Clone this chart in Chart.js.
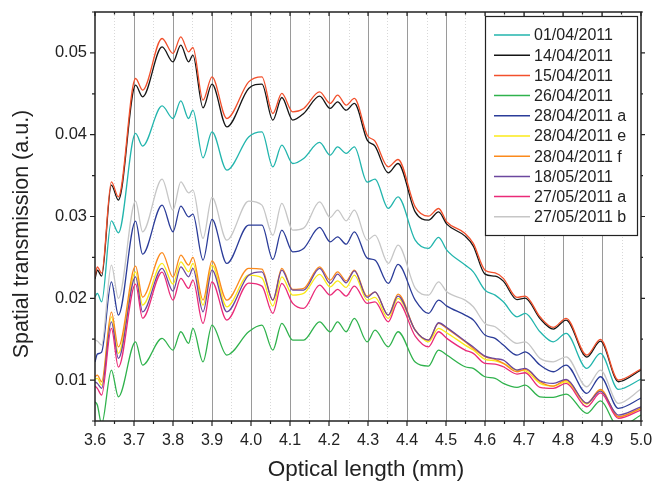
<!DOCTYPE html>
<html>
<head>
<meta charset="utf-8">
<script src="https://cdn.jsdelivr.net/npm/chart.js@4/dist/chart.umd.min.js"></script>
<style>
  html, body { margin: 0; padding: 0; background: #fff; }
  #wrap { width: 653px; height: 489px; }
</style>
</head>
<body>
<div id="wrap"><canvas id="c" width="653" height="489"></canvas></div>
<script>
// Optical length (mm) sample positions shared by all measurement dates
const opticalLength = [3.600, 3.606, 3.617, 3.642, 3.660, 3.704, 3.722, 3.772, 3.800, 3.820, 3.840, 3.851,
  3.877, 3.900, 3.938, 3.994, 4.028, 4.056, 4.079, 4.107, 4.135, 4.176, 4.203, 4.222, 4.244, 4.265,
  4.298, 4.318, 4.352, 4.377, 4.421, 4.455, 4.481, 4.502, 4.549, 4.570, 4.600, 4.626, 4.647, 4.682,
  4.703, 4.741, 4.775, 4.808, 4.861, 4.896, 4.942, 5.000];

// Spatial transmission (a.u.) per measurement
const t01_04 = [0.02018, 0.02060, 0.01957, 0.02947, 0.02800, 0.04015, 0.03860, 0.04352, 0.04198, 0.04413, 0.04198, 0.04300,
  0.03717, 0.04035, 0.03567, 0.03973, 0.04035, 0.03607, 0.03872, 0.03648, 0.03710, 0.03905, 0.03750, 0.03851, 0.03771, 0.03851,
  0.03420, 0.03457, 0.03099, 0.03240, 0.02711, 0.02610, 0.02744, 0.02589, 0.02406, 0.02324, 0.02100, 0.02039, 0.01957, 0.01774,
  0.01815, 0.01591, 0.01468, 0.01571, 0.01143, 0.01327, 0.00887, 0.01013];
const t14_04 = [0.02235, 0.02345, 0.02271, 0.03383, 0.03200, 0.04605, 0.04462, 0.05073, 0.04890, 0.05094, 0.04890, 0.04972,
  0.04328, 0.04618, 0.04096, 0.04565, 0.04618, 0.04178, 0.04455, 0.04178, 0.04259, 0.04471, 0.04321, 0.04401, 0.04300, 0.04382,
  0.03933, 0.03860, 0.03534, 0.03648, 0.03057, 0.02956, 0.03057, 0.02907, 0.02760, 0.02638, 0.02296, 0.02271, 0.02210, 0.01984,
  0.02002, 0.01752, 0.01624, 0.01734, 0.01281, 0.01477, 0.00980, 0.01123];
const t15_04 = [0.02263, 0.02385, 0.02308, 0.03424, 0.03240, 0.04687, 0.04544, 0.05176, 0.04993, 0.05196, 0.05012, 0.05066,
  0.04422, 0.04707, 0.04198, 0.04646, 0.04707, 0.04259, 0.04504, 0.04279, 0.04321, 0.04523, 0.04382, 0.04483, 0.04361, 0.04443,
  0.03994, 0.03921, 0.03607, 0.03697, 0.03118, 0.03004, 0.03098, 0.02935, 0.02793, 0.02671, 0.02344, 0.02311, 0.02243, 0.02011,
  0.02027, 0.01774, 0.01644, 0.01754, 0.01306, 0.01498, 0.01000, 0.01135];
const t26_04 = [0.00735, 0.00695, 0.00463, 0.01123, 0.00796, 0.01468, 0.01184, 0.01510, 0.01367, 0.01591, 0.01449, 0.01632,
  0.01224, 0.01672, 0.01306, 0.01591, 0.01672, 0.01367, 0.01693, 0.01489, 0.01489, 0.01713, 0.01591, 0.01713, 0.01591, 0.01754,
  0.01468, 0.01611, 0.01407, 0.01591, 0.01220, 0.01171, 0.01367, 0.01306, 0.01163, 0.01143, 0.01041, 0.01021, 0.00960, 0.00911,
  0.00939, 0.00796, 0.00789, 0.00829, 0.00593, 0.00747, 0.00426, 0.00573];
const t28_04a = [0.01220, 0.01318, 0.01343, 0.02202, 0.01795, 0.02943, 0.02540, 0.03139, 0.02813, 0.03127, 0.02996, 0.03029,
  0.02467, 0.02964, 0.02426, 0.02894, 0.02894, 0.02475, 0.02833, 0.02568, 0.02610, 0.02866, 0.02690, 0.02751, 0.02662, 0.02813,
  0.02491, 0.02467, 0.02182, 0.02414, 0.01978, 0.01815, 0.01978, 0.01905, 0.01795, 0.01734, 0.01550, 0.01510, 0.01428, 0.01306,
  0.01346, 0.01184, 0.01102, 0.01184, 0.00838, 0.01041, 0.00655, 0.00780];
const t28_04e = [0.01013, 0.01021, 0.00939, 0.01774, 0.01327, 0.02324, 0.01917, 0.02426, 0.02174, 0.02446, 0.02324, 0.02426,
  0.01917, 0.02406, 0.01896, 0.02283, 0.02250, 0.01905, 0.02263, 0.02039, 0.02060, 0.02292, 0.02140, 0.02214, 0.02133, 0.02283,
  0.01978, 0.02011, 0.01754, 0.01999, 0.01611, 0.01468, 0.01632, 0.01578, 0.01428, 0.01367, 0.01253, 0.01236, 0.01204, 0.01123,
  0.01114, 0.00960, 0.00927, 0.00980, 0.00707, 0.00878, 0.00548, 0.00652];
const t28_04f = [0.01041, 0.01061, 0.00980, 0.01831, 0.01407, 0.02393, 0.02015, 0.02558, 0.02259, 0.02528, 0.02406, 0.02500,
  0.01978, 0.02458, 0.01978, 0.02365, 0.02357, 0.01978, 0.02365, 0.02109, 0.02121, 0.02385, 0.02222, 0.02324, 0.02214, 0.02345,
  0.02027, 0.02076, 0.01795, 0.02051, 0.01611, 0.01489, 0.01693, 0.01632, 0.01468, 0.01388, 0.01285, 0.01253, 0.01204, 0.01102,
  0.01131, 0.00980, 0.00927, 0.01000, 0.00716, 0.00887, 0.00552, 0.00658];
const t18_05 = [0.00976, 0.00960, 0.00899, 0.01713, 0.01266, 0.02263, 0.01835, 0.02365, 0.02088, 0.02385, 0.02263, 0.02365,
  0.01835, 0.02345, 0.01835, 0.02283, 0.02324, 0.01978, 0.02345, 0.02100, 0.02100, 0.02365, 0.02182, 0.02296, 0.02189, 0.02336,
  0.02011, 0.02079, 0.01795, 0.02027, 0.01611, 0.01489, 0.01701, 0.01642, 0.01477, 0.01404, 0.01294, 0.01263, 0.01245, 0.01123,
  0.01143, 0.00992, 0.00960, 0.01009, 0.00719, 0.00866, 0.00573, 0.00674];
const t27_05a = [0.00927, 0.00899, 0.00817, 0.01632, 0.01159, 0.02174, 0.01758, 0.02320, 0.01978, 0.02243, 0.02121, 0.02222,
  0.01693, 0.02202, 0.01734, 0.02186, 0.02149, 0.01815, 0.02182, 0.01938, 0.01877, 0.02161, 0.02039, 0.02109, 0.02027, 0.02149,
  0.01938, 0.01957, 0.01713, 0.01957, 0.01538, 0.01407, 0.01591, 0.01510, 0.01367, 0.01327, 0.01204, 0.01196, 0.01163, 0.01074,
  0.01090, 0.00911, 0.00899, 0.00960, 0.00674, 0.00845, 0.00532, 0.00634];
const t27_05b = [0.01489, 0.01477, 0.01428, 0.02406, 0.01999, 0.03188, 0.02813, 0.03457, 0.03078, 0.03424, 0.03289, 0.03322,
  0.02732, 0.03233, 0.02711, 0.03188, 0.03139, 0.02772, 0.03160, 0.02833, 0.02858, 0.03179, 0.02989, 0.03078, 0.02947, 0.03078,
  0.02711, 0.02772, 0.02426, 0.02650, 0.02125, 0.02039, 0.02202, 0.02079, 0.01978, 0.01896, 0.01693, 0.01652, 0.01571, 0.01449,
  0.01468, 0.01266, 0.01224, 0.01285, 0.00919, 0.01123, 0.00716, 0.00890];

const seriesLabels = ['01/04/2011', '14/04/2011', '15/04/2011', '26/04/2011', '28/04/2011 a',
  '28/04/2011 e', '28/04/2011 f', '18/05/2011', '27/05/2011 a', '27/05/2011 b'];
const seriesValues = [t01_04, t14_04, t15_04, t26_04, t28_04a, t28_04e, t28_04f, t18_05, t27_05a, t27_05b];
const seriesColors = ['#22b5ad', '#151515', '#f2502c', '#2fb24c', '#2b3c99',
  '#fbea18', '#fb8a1c', '#6b479e', '#ea2a78', '#c6c6c6'];

const xMajorTicks = [3.6, 3.7, 3.8, 3.9, 4.0, 4.1, 4.2, 4.3, 4.4, 4.5, 4.6, 4.7, 4.8, 4.9, 5.0];
const yMajorTicks = [0.01, 0.02, 0.03, 0.04, 0.05];
const xTitle = 'Optical length (mm)';
const yTitle = 'Spatial transmission (a.u.)';

const FONT = '"Liberation Sans", Arial, Helvetica, sans-serif';

const datasets = seriesLabels.map((label, i) => ({
  label,
  data: opticalLength.map((x, k) => ({ x, y: seriesValues[i][k] })),
  borderColor: seriesColors[i],
  backgroundColor: seriesColors[i],
  borderWidth: 1.3,
  pointRadius: 0,
  fill: false,
  cubicInterpolationMode: 'monotone',
  order: seriesLabels.length - i
}));

// grid lines, frame, tick marks, axis titles and the boxed legend
const framePlugin = {
  id: 'frame',
  beforeDatasetsDraw(chart) {
    const { ctx, chartArea: a, scales: { x } } = chart;
    ctx.save();
    // minor dotted verticals
    ctx.strokeStyle = '#d8d8d8';
    ctx.lineWidth = 1;
    ctx.setLineDash([1, 2]);
    for (let i = 0; i < xMajorTicks.length - 1; i++) {
      const px = Math.round(x.getPixelForValue(xMajorTicks[i] + 0.05)) + 0.5;
      ctx.beginPath(); ctx.moveTo(px, a.top); ctx.lineTo(px, a.bottom); ctx.stroke();
    }
    // major solid verticals
    ctx.setLineDash([]);
    ctx.strokeStyle = '#9a9a9a';
    for (let i = 1; i < xMajorTicks.length - 1; i++) {
      const px = Math.round(x.getPixelForValue(xMajorTicks[i])) + 0.5;
      ctx.beginPath(); ctx.moveTo(px, a.top); ctx.lineTo(px, a.bottom); ctx.stroke();
    }
    ctx.restore();
  },
  afterDatasetsDraw(chart) {
    const { ctx, chartArea: a, scales: { x, y } } = chart;
    ctx.save();
    ctx.strokeStyle = '#222';
    ctx.lineWidth = 1.5;
    ctx.strokeRect(a.left, a.top, a.right - a.left, a.bottom - a.top);
    ctx.lineWidth = 1.2;
    ctx.beginPath();
    // x ticks: bottom outward, top inward
    for (let i = 0; i < xMajorTicks.length; i++) {
      const px = x.getPixelForValue(xMajorTicks[i]);
      ctx.moveTo(px, a.bottom); ctx.lineTo(px, a.bottom + 5);
      ctx.moveTo(px, a.top); ctx.lineTo(px, a.top + 4);
      if (i < xMajorTicks.length - 1) {
        const pm = x.getPixelForValue(xMajorTicks[i] + 0.05);
        ctx.moveTo(pm, a.bottom); ctx.lineTo(pm, a.bottom + 3);
        ctx.moveTo(pm, a.top); ctx.lineTo(pm, a.top + 2.5);
      }
    }
    // y ticks on both sides, pointing outward
    for (let v = 0.005; v <= 0.0551; v += 0.005) {
      const major = Math.abs(v * 100 - Math.round(v * 100)) < 1e-6;
      const py = y.getPixelForValue(v);
      const len = major ? 5 : 3;
      ctx.moveTo(a.left, py); ctx.lineTo(a.left - len, py);
      ctx.moveTo(a.right, py); ctx.lineTo(a.right + len - 1, py);
    }
    ctx.stroke();

    // axis titles
    ctx.fillStyle = '#222';
    ctx.textAlign = 'center';
    ctx.textBaseline = 'middle';
    ctx.font = '22.5px ' + FONT;
    ctx.fillText(xTitle, (a.left + a.right) / 2 - 2, 470);
    ctx.save();
    ctx.translate(22, 234);
    ctx.rotate(-Math.PI / 2);
    ctx.font = '21.5px ' + FONT;
    ctx.fillText(yTitle, 0, 0);
    ctx.restore();

    // legend box
    const bx = 485, by = 16, bw = 152, bh = 219;
    ctx.fillStyle = '#fff';
    ctx.fillRect(bx, by, bw, bh);
    ctx.strokeStyle = '#222';
    ctx.lineWidth = 1.2;
    ctx.strokeRect(bx + 0.5, by + 0.5, bw, bh);
    ctx.font = '16px ' + FONT;
    ctx.textBaseline = 'middle';
    ctx.textAlign = 'left';
    chart.data.datasets.forEach((ds, i) => {
      const ry = by + 19 + i * 20.2;
      ctx.strokeStyle = ds.borderColor;
      ctx.lineWidth = 1.5;
      ctx.beginPath(); ctx.moveTo(bx + 9, ry); ctx.lineTo(bx + 45, ry); ctx.stroke();
      ctx.fillStyle = '#222';
      ctx.fillText(ds.label, bx + 49, ry + 1);
    });
    ctx.restore();
  }
};

new Chart(document.getElementById('c'), {
  type: 'line',
  data: { datasets },
  plugins: [framePlugin],
  options: {
    responsive: false,
    animation: false,
    layout: { padding: { left: 0, right: 12, top: 12, bottom: 0 } },
    plugins: { legend: { display: false }, tooltip: { enabled: false } },
    scales: {
      x: {
        type: 'linear',
        min: 3.6, max: 5.0,
        afterBuildTicks: s => { s.ticks = xMajorTicks.map(v => ({ value: v })); },
        afterFit: s => { s.height = 68; s.paddingLeft = 0; s.paddingRight = 0; },
        grid: { display: false, drawTicks: false },
        border: { display: false },
        ticks: {
          padding: 10, color: '#222', maxRotation: 0, autoSkip: false,
          font: { family: FONT, size: 16 },
          callback: v => Number(v).toFixed(1)
        },
        title: { display: false }
      },
      y: {
        type: 'linear',
        min: 0.005, max: 0.055,
        afterBuildTicks: s => { s.ticks = yMajorTicks.map(v => ({ value: v })); },
        afterFit: s => { s.width = 95; s.paddingTop = 0; s.paddingBottom = 0; },
        grid: { display: false, drawTicks: false },
        border: { display: false },
        ticks: {
          padding: 8, color: '#222',
          font: { family: FONT, size: 16.5 },
          callback: v => Number(v).toFixed(2)
        },
        title: { display: false }
      }
    }
  }
});
</script>
</body>
</html>
